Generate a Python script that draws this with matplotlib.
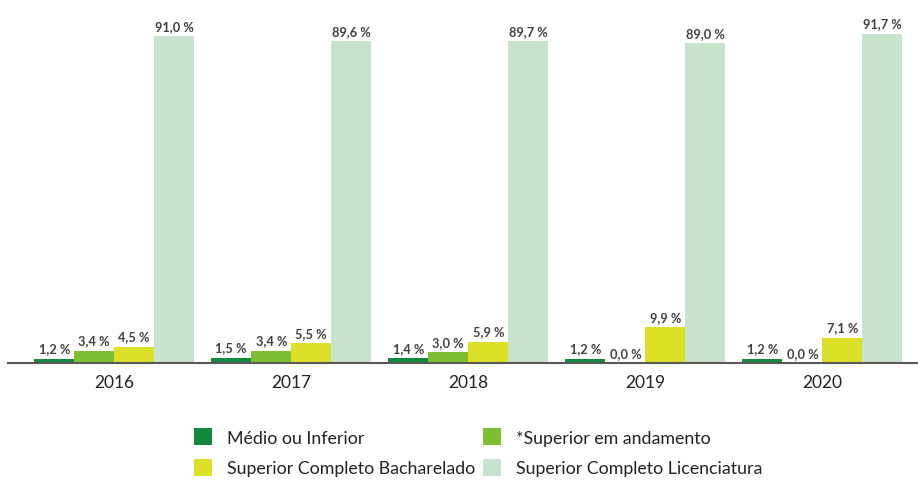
import matplotlib
matplotlib.use("Agg")
import matplotlib.pyplot as plt
import numpy as np
from matplotlib.patches import Patch

plt.rcParams['font.family'] = ['Lato', 'DejaVu Sans']

years = ["2016", "2017", "2018", "2019", "2020"]
series_names = ["Médio ou Inferior", "*Superior em andamento",
                "Superior Completo Bacharelado", "Superior Completo Licenciatura"]
medio = [1.2, 1.5, 1.4, 1.2, 1.2]
sup_andamento = [3.4, 3.4, 3.0, 0.0, 0.0]
bacharelado = [4.5, 5.5, 5.9, 9.9, 7.1]
licenciatura = [91.0, 89.6, 89.7, 89.0, 91.7]
series = [medio, sup_andamento, bacharelado, licenciatura]
colors = ["#128a3e", "#7dbf31", "#dce027", "#c8e3cd"]

fig = plt.figure(figsize=(9.18, 4.81), dpi=100)
ax = fig.add_axes([0.0087, 0.2432, 0.9913, 0.7464])

x = np.arange(len(years))
w = 0.226
offsets = (np.arange(4) - 1.5) * w
for vals, off, c in zip(series, offsets, colors):
    ax.bar(x + off, vals, width=w, color=c, zorder=2)
    for xi, v in zip(x + off, vals):
        ax.text(xi, v + 1.2, f"{v:.1f} %".replace(".", ","), ha="center", va="bottom",
                fontsize=9.2, fontweight="bold", color="#404040")

ax.set_xlim(-0.6, 4.54)
ax.set_ylim(0, 100)
for s in ["top", "right", "left"]:
    ax.spines[s].set_visible(False)
ax.spines["bottom"].set_color("#595959")
ax.spines["bottom"].set_linewidth(1.5)
ax.set_yticks([])
ax.set_xticks(x)
ax.set_xticklabels(years, fontsize=12.5, color="#222222")
ax.tick_params(axis="x", length=0, pad=8)

handles = [Patch(facecolor=c, edgecolor="none") for c in colors]
order = [0, 2, 1, 3]
fig.legend([handles[i] for i in order], [series_names[i] for i in order],
           loc="center", bbox_to_anchor=(0.521, 0.058), ncol=2,
           frameon=False, fontsize=12.8, handlelength=1.0, handleheight=1.1,
           columnspacing=0.45, labelspacing=0.72, handletextpad=0.85, labelcolor="#222222")

fig.savefig("out.png", dpi=100)
